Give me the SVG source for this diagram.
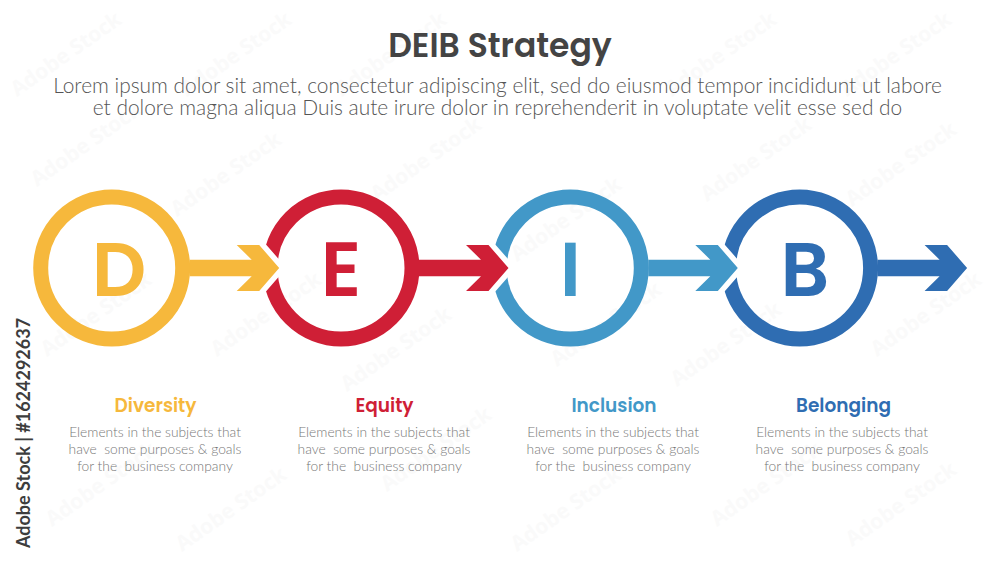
<svg xmlns="http://www.w3.org/2000/svg" width="1000" height="563" viewBox="0 0 1000 563">
<style>
text{text-anchor:middle}
.title{font:600 33px Poppins,Inter,"Open Sans",sans-serif;fill:#444}
.sub{font:300 20.9px Lato,"Liberation Sans",sans-serif;fill:#555}
.ring{fill:none;stroke-width:15}
.letter{font:600 76px Poppins,Inter,"Open Sans",sans-serif}
.name{font:600 18.5px Poppins,Inter,"Open Sans",sans-serif}
.desc{font:300 13.8px Lato,"Liberation Sans",sans-serif;fill:#777;white-space:pre}
.halo{fill:#fff;stroke:#fff;stroke-width:11;stroke-linejoin:round}
.wm{font:700 21px "Open Sans",sans-serif;fill:#fafafa}
.side{font:700 18px Lato,"Open Sans",sans-serif;fill:#3d3d3d;text-anchor:start}
.fy{fill:#f6b83c}.fr{fill:#cf1f36}.fc{fill:#4298c8}.fb{fill:#2f6db2}
.sy{stroke:#f6b83c}.sr{stroke:#cf1f36}.sc{stroke:#4298c8}.sb{stroke:#2f6db2}
</style>
<defs>
<path id="arrow" d="M78 -8.3H140L125 -23H147.5L167.5 0L147.5 23H125L140 8.3H78Z"/>
<path id="arrowhead" d="M125 -23H147.5L167.5 0L147.5 23H125L140 8.3V-8.3Z"/>
</defs>
<g id="watermark">
<text class="wm" transform="translate(70 60) rotate(-35)">Adobe Stock</text>
<text class="wm" transform="translate(240 60) rotate(-35)">Adobe Stock</text>
<text class="wm" transform="translate(395 60) rotate(-35)">Adobe Stock</text>
<text class="wm" transform="translate(725 60) rotate(-35)">Adobe Stock</text>
<text class="wm" transform="translate(900 60) rotate(-35)">Adobe Stock</text>
<text class="wm" transform="translate(90 150) rotate(-35)">Adobe Stock</text>
<text class="wm" transform="translate(230 180) rotate(-35)">Adobe Stock</text>
<text class="wm" transform="translate(430 165) rotate(-35)">Adobe Stock</text>
<text class="wm" transform="translate(760 165) rotate(-35)">Adobe Stock</text>
<text class="wm" transform="translate(905 170) rotate(-35)">Adobe Stock</text>
<text class="wm" transform="translate(100 320) rotate(-35)">Adobe Stock</text>
<text class="wm" transform="translate(270 320) rotate(-35)">Adobe Stock</text>
<text class="wm" transform="translate(570 225) rotate(-35)">Adobe Stock</text>
<text class="wm" transform="translate(610 330) rotate(-35)">Adobe Stock</text>
<text class="wm" transform="translate(930 320) rotate(-35)">Adobe Stock</text>
<text class="wm" transform="translate(400 355) rotate(-35)">Adobe Stock</text>
<text class="wm" transform="translate(730 350) rotate(-35)">Adobe Stock</text>
<text class="wm" transform="translate(105 490) rotate(-35)">Adobe Stock</text>
<text class="wm" transform="translate(235 515) rotate(-35)">Adobe Stock</text>
<text class="wm" transform="translate(440 455) rotate(-35)">Adobe Stock</text>
<text class="wm" transform="translate(570 515) rotate(-35)">Adobe Stock</text>
<text class="wm" transform="translate(770 490) rotate(-35)">Adobe Stock</text>
<text class="wm" transform="translate(905 510) rotate(-35)">Adobe Stock</text>
</g>
<text class="title" x="500" y="57">DEIB Strategy</text>
<text class="sub" x="497.5" y="93">Lorem ipsum dolor sit amet, consectetur adipiscing elit, sed do eiusmod tempor incididunt ut labore</text>
<text class="sub" x="497.5" y="115">et dolore magna aliqua Duis aute irure dolor in reprehenderit in voluptate velit esse sed do</text>
<g id="node-d">
<circle class="ring sy" cx="111.7" cy="268" r="71"/>
<text class="letter fy" x="119" y="295.5">D</text>
<text class="name fy" x="155.5" y="412">Diversity</text>
<text class="desc" x="155" y="436.5">Elements in the subjects that</text>
<text class="desc" x="155" y="453.5">have  some purposes &amp; goals</text>
<text class="desc" x="155" y="470.5">for the  business company</text>
</g>
<g id="node-e">
<circle class="ring sr" cx="341" cy="268" r="71"/>
<text class="letter fr" x="341" y="295.5">E</text>
<text class="name fr" x="384.5" y="412">Equity</text>
<text class="desc" x="384" y="436.5">Elements in the subjects that</text>
<text class="desc" x="384" y="453.5">have  some purposes &amp; goals</text>
<text class="desc" x="384" y="470.5">for the  business company</text>
</g>
<g id="node-i">
<circle class="ring sc" cx="570.3" cy="268" r="71"/>
<text class="letter fc" x="570.3" y="295.5">I</text>
<text class="name fc" x="614" y="412">Inclusion</text>
<text class="desc" x="613" y="436.5">Elements in the subjects that</text>
<text class="desc" x="613" y="453.5">have  some purposes &amp; goals</text>
<text class="desc" x="613" y="470.5">for the  business company</text>
</g>
<g id="node-b">
<circle class="ring sb" cx="799.6" cy="268" r="71"/>
<text class="letter fb" x="805" y="295.5">B</text>
<text class="name fb" x="843.5" y="412">Belonging</text>
<text class="desc" x="842" y="436.5">Elements in the subjects that</text>
<text class="desc" x="842" y="453.5">have  some purposes &amp; goals</text>
<text class="desc" x="842" y="470.5">for the  business company</text>
</g>
<g id="connectors">
<g transform="translate(111.7 268)"><use href="#arrowhead" class="halo"/><use href="#arrow" class="fy"/></g>
<g transform="translate(341 268)"><use href="#arrowhead" class="halo"/><use href="#arrow" class="fr"/></g>
<g transform="translate(570.3 268)"><use href="#arrowhead" class="halo"/><use href="#arrow" class="fc"/></g>
<g transform="translate(799.6 268)"><use href="#arrow" class="fb"/></g>
</g>
<text class="side" transform="translate(30 548) rotate(-90)">Adobe Stock | #1624292637</text>
</svg>
